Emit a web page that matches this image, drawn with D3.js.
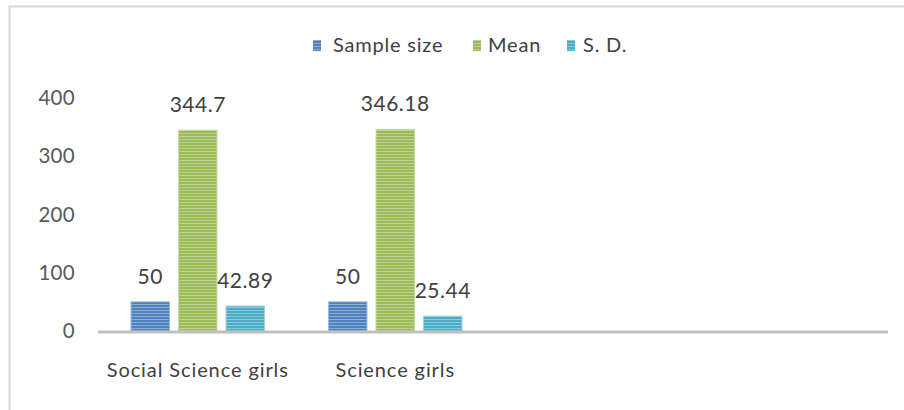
<!DOCTYPE html>
<html>
<head>
<meta charset="utf-8">
<script src="https://cdn.jsdelivr.net/npm/d3@7"></script>
<style>
  html, body { margin: 0; padding: 0; background: #fff; }
  svg { display: block; font-family: Lato, "Open Sans", sans-serif; }
</style>
</head>
<body>
<svg id="chart" width="904" height="410"></svg>
<script>
// Groups shown on the category axis (the axis reserves four slots, the last two are empty)
const categories = ["Social Science girls", "Science girls"];
const slotCount = 4;
const seriesNames = ["Sample size", "Mean", "S. D."];
const sampleSize = [50, 50];
const mean = [344.7, 346.18];
const sd = [42.89, 25.44];
const yTicks = [0, 100, 200, 300, 400];

const seriesValues = [sampleSize, mean, sd];
const colors = ["#4f81bd", "#9bbb59", "#4bacc6"];
const edgeColors = ["#9db8dc", "#c6da9e", "#9fd3e2"];

const svg = d3.select("#chart");
const W = 904, H = 410;

// Outer frame
svg.append("rect")
  .attr("x", 9.5).attr("y", 6.5)
  .attr("width", W).attr("height", H)
  .attr("fill", "none")
  .attr("stroke", "#d9d9d9")
  .attr("stroke-width", 2);

// Striped fills for the bars
const defs = svg.append("defs");
colors.forEach((c, i) => {
  const p = defs.append("pattern")
    .attr("id", "stripe" + i)
    .attr("patternUnits", "userSpaceOnUse")
    .attr("width", 8).attr("height", 3);
  p.append("rect").attr("width", 8).attr("height", 3).attr("fill", c);
  p.append("rect").attr("y", 1).attr("width", 8).attr("height", 1)
    .attr("fill", "#ffffff").attr("opacity", 0.35);
});

// Scales
const x = d3.scaleBand().domain(d3.range(slotCount)).range([99, 889]);
const xi = d3.scaleBand().domain(d3.range(seriesNames.length))
  .range([-66.75, 66.75]).paddingInner(0.19);
const y = d3.scaleLinear().domain([0, 400]).range([331, 98]);

// Y tick labels
svg.append("g").selectAll("text")
  .data(yTicks)
  .join("text")
  .attr("x", 75)
  .attr("y", d => y(d))
  .attr("dy", "0.35em")
  .attr("text-anchor", "end")
  .attr("fill", "#595959")
  .attr("font-size", 20.5)
  .attr("letter-spacing", 0.3)
  .text(d => d);

// Bars
const groups = svg.append("g").selectAll("g")
  .data(categories.map((c, gi) => ({ c, gi })))
  .join("g")
  .attr("transform", d => `translate(${x(d.gi) + x.bandwidth() / 2},0)`);

groups.selectAll("rect")
  .data(d => seriesValues.map((vals, si) => ({ si, v: vals[d.gi] })))
  .join("rect")
  .attr("x", d => xi(d.si))
  .attr("width", xi.bandwidth())
  .attr("y", d => y(d.v))
  .attr("height", d => y(0) - y(d.v))
  .attr("fill", d => `url(#stripe${d.si})`)
  .attr("stroke", d => edgeColors[d.si])
  .attr("stroke-width", 1);

// Value labels
groups.selectAll("text")
  .data(d => seriesValues.map((vals, si) => ({ si, v: vals[d.gi] })))
  .join("text")
  .attr("x", d => xi(d.si) + xi.bandwidth() / 2)
  .attr("y", d => y(d.v) - 18)
  .attr("text-anchor", "middle")
  .attr("fill", "#404040")
  .attr("font-size", 21)
  .attr("letter-spacing", 0.5)
  .text(d => d.v);

// Category axis line
svg.append("line")
  .attr("x1", x.range()[0] - 1).attr("x2", x.range()[1] - 1)
  .attr("y1", 332).attr("y2", 332)
  .attr("stroke", "#c0c0c0")
  .attr("stroke-width", 3);

// Category labels
svg.append("g").selectAll("text")
  .data(d3.range(slotCount))
  .join("text")
  .attr("x", d => x(d) + x.bandwidth() / 2)
  .attr("y", 377)
  .attr("text-anchor", "middle")
  .attr("fill", "#404040")
  .attr("font-size", 20)
  .attr("letter-spacing", 0.9)
  .text(d => categories[d] || "");

// Legend
const legendSwatchX = [313, 473, 567];
const legendTextX = [333, 488, 583];
const legend = svg.append("g");
seriesNames.forEach((name, i) => {
  legend.append("rect")
    .attr("x", legendSwatchX[i]).attr("y", 40)
    .attr("width", 8).attr("height", 11)
    .attr("fill", `url(#stripe${i})`);
  legend.append("text")
    .attr("x", legendTextX[i]).attr("y", 52)
    .attr("fill", "#404040")
    .attr("font-size", 20)
    .attr("letter-spacing", 0.8)
    .text(name);
});
</script>
</body>
</html>
